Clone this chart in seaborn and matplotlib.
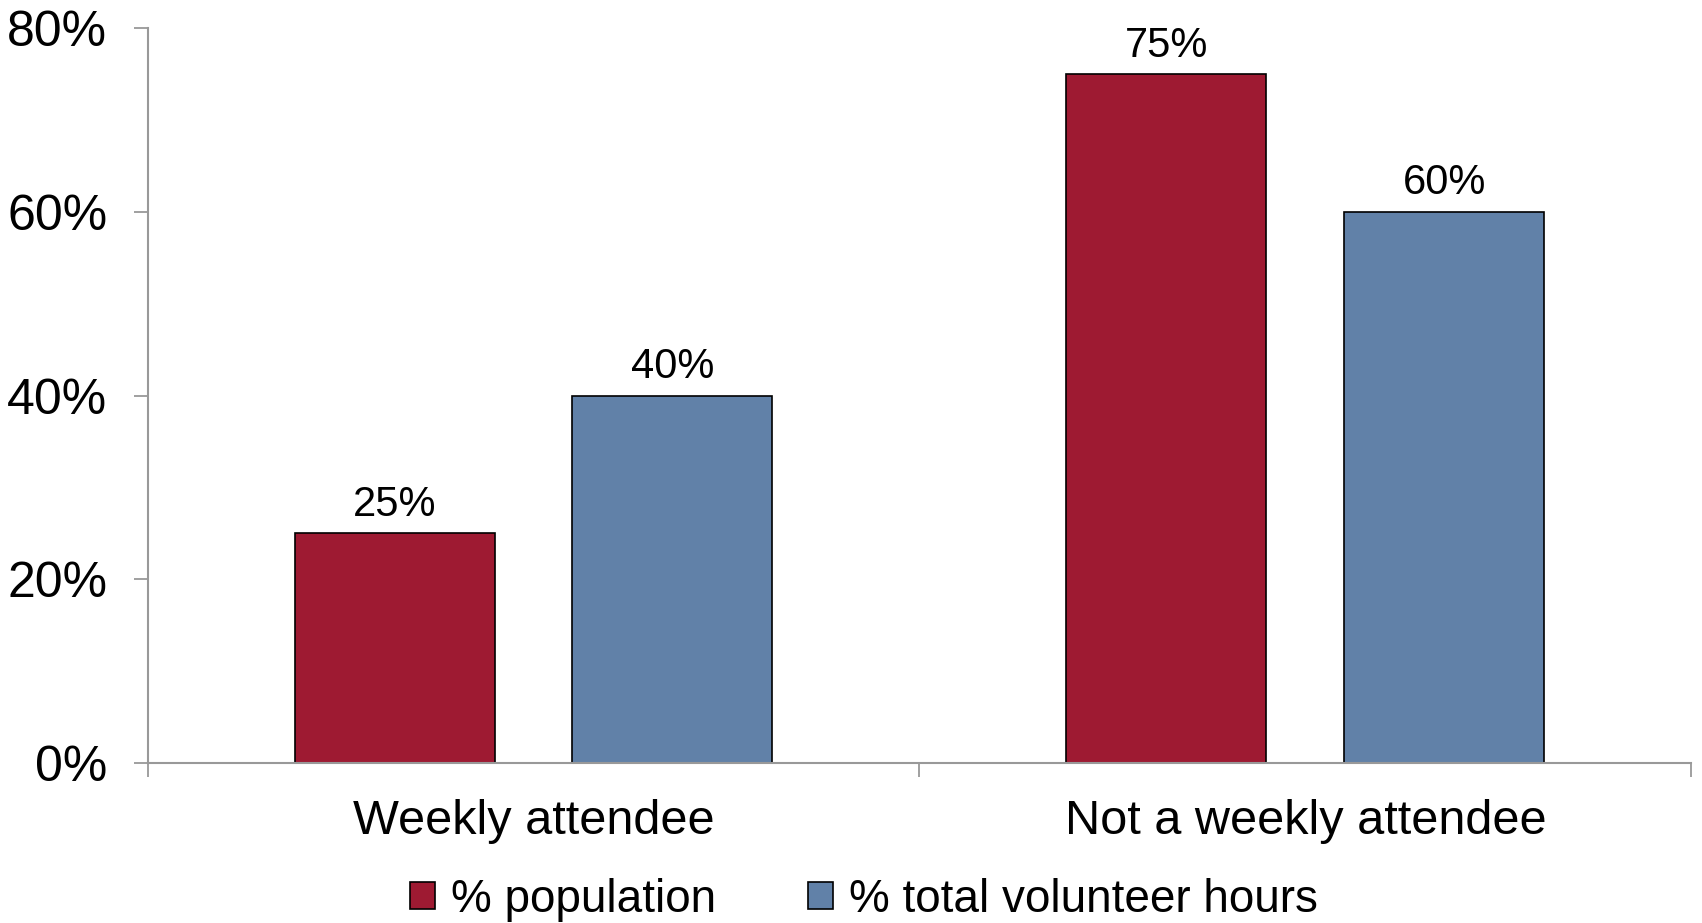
import pandas as pd
import matplotlib.pyplot as plt
import seaborn as sns
from matplotlib.ticker import PercentFormatter, FixedLocator

categories = ['Weekly attendee', 'Not a weekly attendee']
series = ['% population', '% total volunteer hours']
population = [25, 75]
volunteer_hours = [40, 60]
colors = ['#9E1A32', '#6181A8']

df = pd.DataFrame({
    'category': categories * 2,
    'series': [series[0]] * 2 + [series[1]] * 2,
    'value': population + volunteer_hours,
})

sns.set_style('white')
plt.rcParams['font.family'] = ['Liberation Sans', 'DejaVu Sans']
plt.rcParams['text.color'] = 'black'
plt.rcParams['xtick.labelcolor'] = 'black'
plt.rcParams['ytick.labelcolor'] = 'black'

fig = plt.figure(figsize=(17.02, 9.23), dpi=100)
ax = fig.add_axes([0.0867, 0.1733, 0.907, 0.7964])

sns.barplot(data=df, x='category', y='value', hue='series', order=categories,
            hue_order=series, palette=colors, saturation=1, width=0.72, gap=0.28,
            edgecolor='black', linewidth=1.2, ax=ax)

for c in ax.containers:
    ax.bar_label(c, labels=[f'{v:.0f}%' for v in c.datavalues], padding=6,
                 fontsize=30, color='black')

ax.set_ylim(0, 80)
ax.set_xlim(-0.5, 1.5)
ax.set_yticks([0, 20, 40, 60, 80])
ax.yaxis.set_major_formatter(PercentFormatter(decimals=0))
ax.tick_params(axis='y', labelsize=36, length=10, width=1.3, color='#999999',
               direction='out', left=True, pad=19)
ax.tick_params(axis='x', labelsize=35, length=12, width=1.3, color='#999999',
               direction='out', bottom=False, pad=14)
# ticks on the category boundaries
ax.xaxis.set_minor_locator(FixedLocator([-0.5, 0.5, 1.5]))
ax.tick_params(axis='x', which='minor', length=10, width=1.3, color='#999999',
               direction='out', bottom=True)
ax.set_xlabel('')
ax.set_ylabel('')

for s in ['top', 'right']:
    ax.spines[s].set_visible(False)
for s in ['left', 'bottom']:
    ax.spines[s].set_color('#999999')
    ax.spines[s].set_linewidth(1.5)

ax.legend(loc='upper center', bbox_to_anchor=(0.464, -0.125), ncol=2, frameon=False,
          fontsize=33, handlelength=0.55, handleheight=0.55, handletextpad=0.35,
          columnspacing=2.0, borderpad=0)

fig.savefig('out.png', dpi=100)
